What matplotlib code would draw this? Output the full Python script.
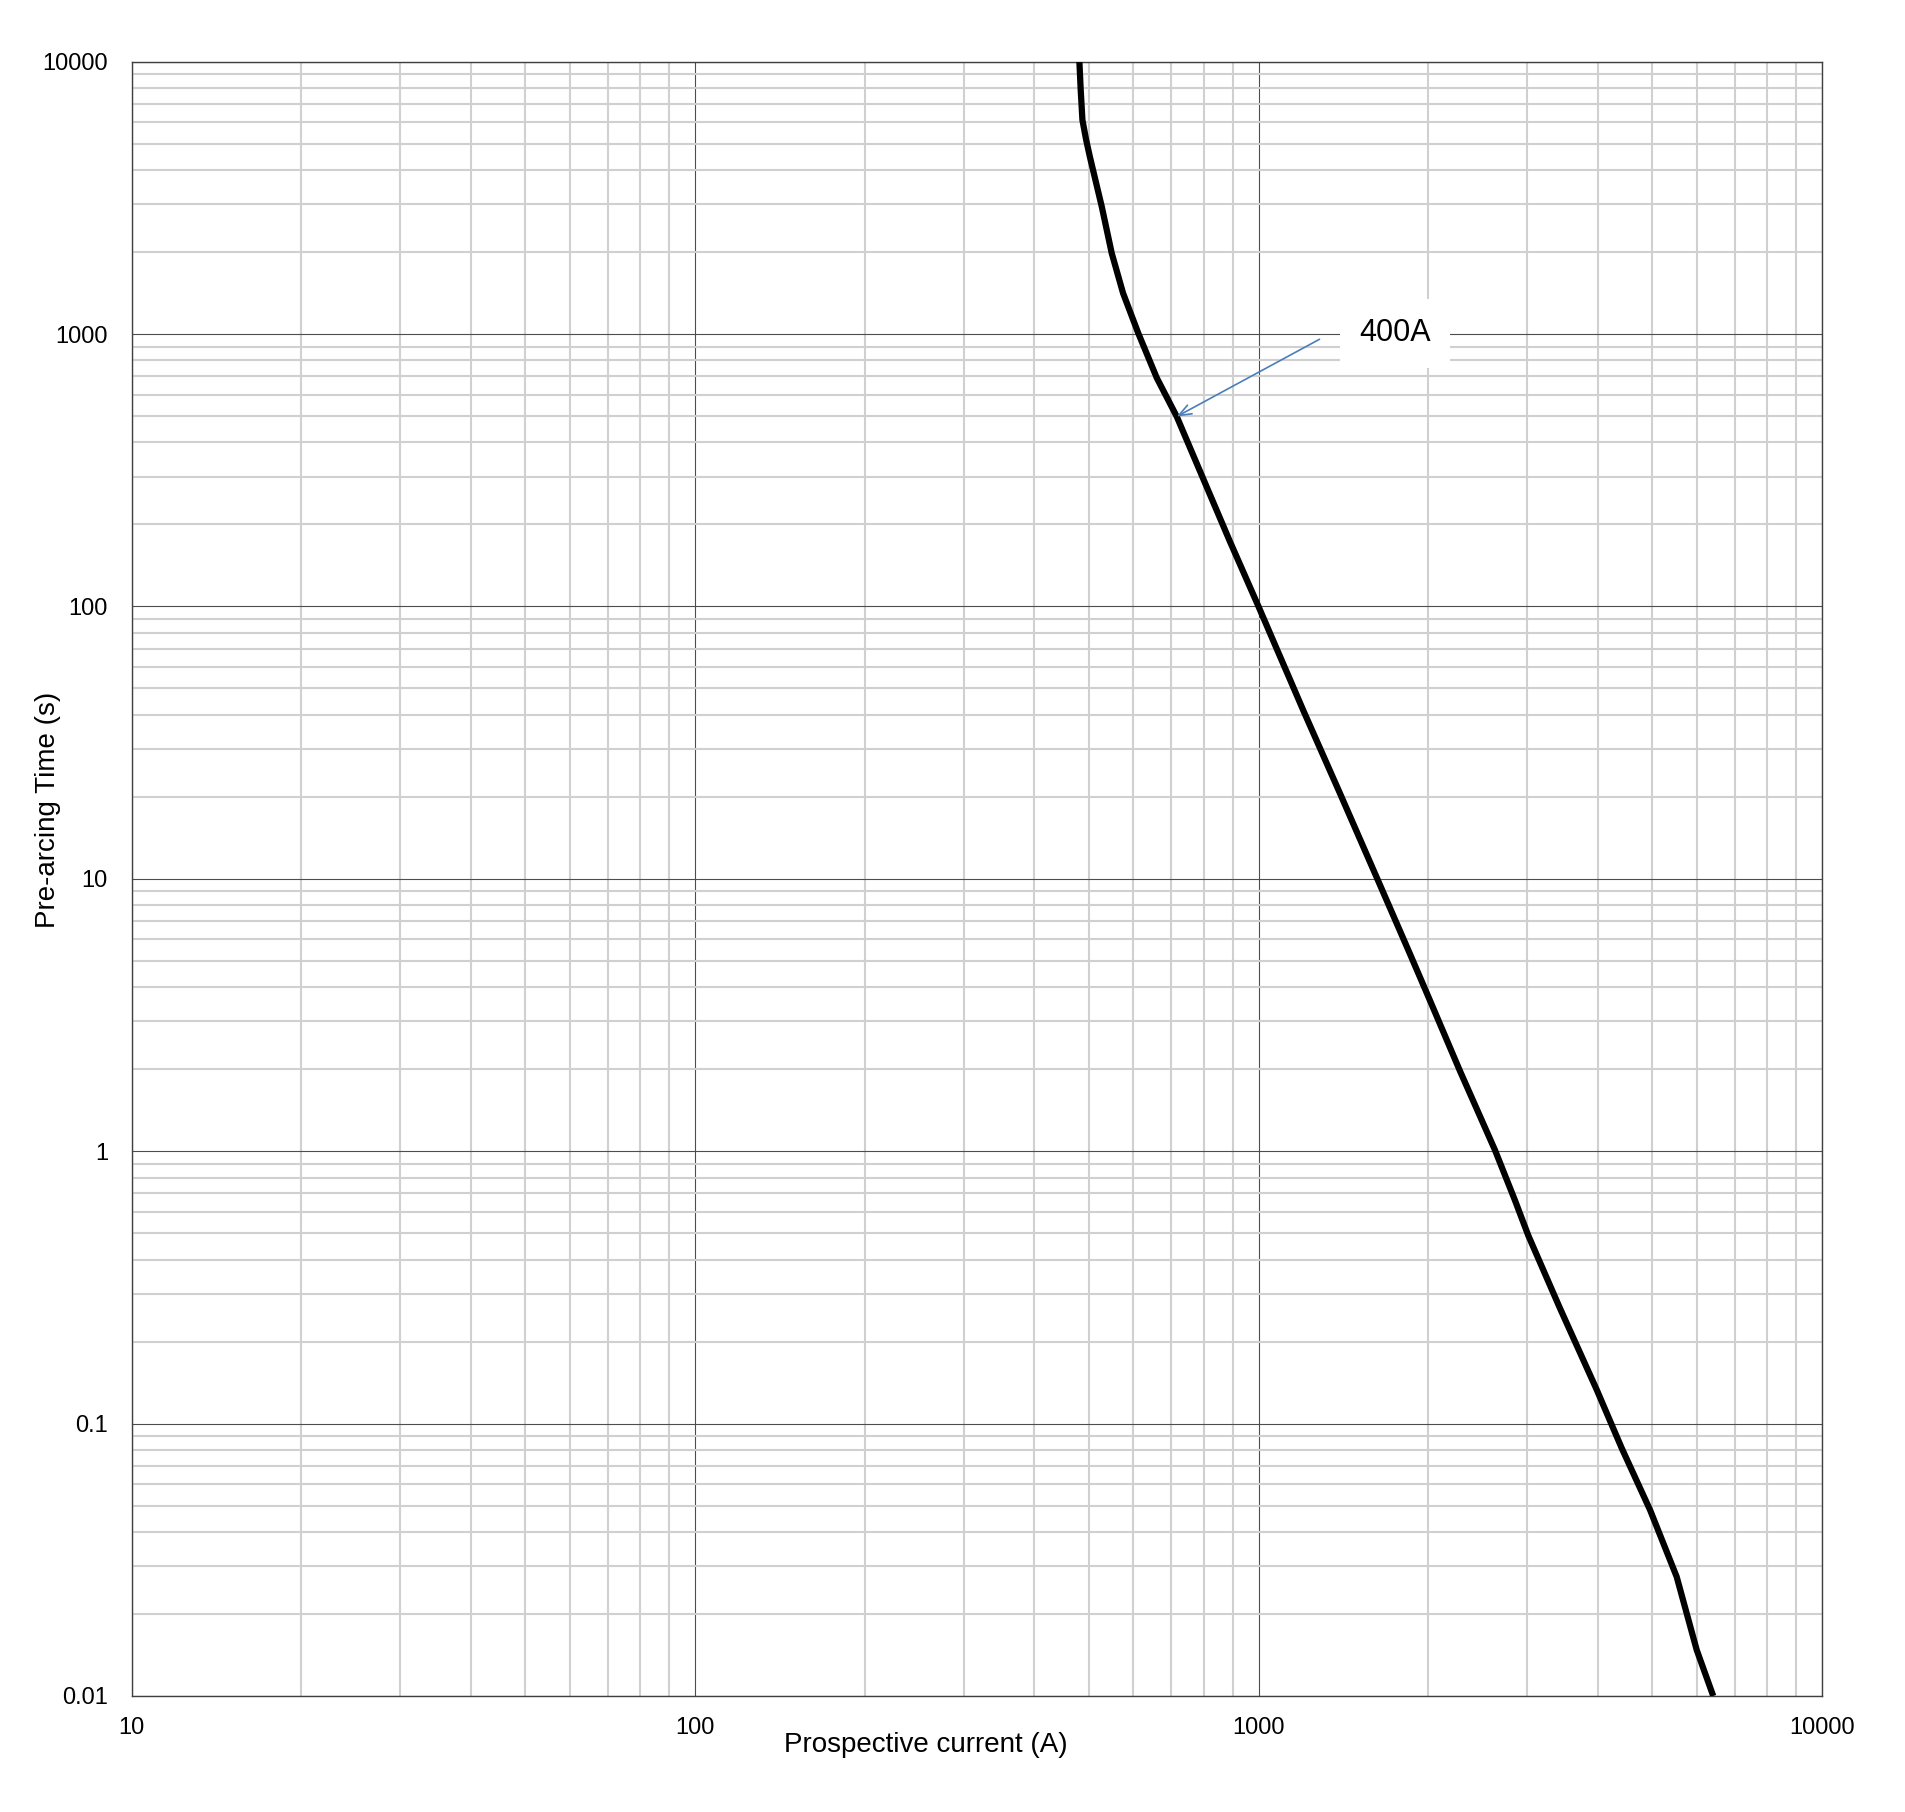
import numpy as np
import matplotlib
import matplotlib.pyplot as plt
from matplotlib.ticker import LogLocator, NullFormatter

matplotlib.use('Agg')

plt.rcParams['font.family'] = ['Liberation Sans', 'DejaVu Sans']

# time-current curve
current = [481, 483.6, 487, 494.5, 502, 527, 549, 575, 612, 660, 716, 798, 890, 1000, 1077, 1137, 1201,
           1395, 1632, 1857, 2001, 2278, 2628, 2852, 3012, 3428, 3984, 4411, 4953, 5522, 5993, 6412]
pre_arc_time = [10000, 7870, 6110, 5160, 4480, 2940, 1980, 1413, 1006, 690, 498, 294, 173, 100, 70, 54, 41.5,
                20.6, 9.8, 5.3, 3.7, 1.97, 1.01, 0.66, 0.49, 0.265, 0.133, 0.0813, 0.0482, 0.0274, 0.01476, 0.01]

x_ticks = [10, 100, 1000, 10000]
x_tick_labels = ['10', '100', '1000', '10000']
y_ticks = [0.01, 0.1, 1, 10, 100, 1000, 10000]
y_tick_labels = ['0.01', '0.1', '1', '10', '100', '1000', '10000']

rating = '400A'
arrow_tip = (716, 498)
arrow_tail = (1283, 957)
label_pos = (1746, 1007)

fig = plt.figure(figsize=(19.05, 18.12), dpi=100)
ax = fig.add_axes([0.06903, 0.06402, 0.88740, 0.90193])

ax.set_xscale('log')
ax.set_yscale('log')
ax.set_xlim(10, 10000)
ax.set_ylim(0.01, 10000)

ax.plot(current, pre_arc_time, color='black', lw=4.5, solid_capstyle='butt',
        solid_joinstyle='round', zorder=3)

ax.set_xticks(x_ticks)
ax.set_xticklabels(x_tick_labels)
ax.set_yticks(y_ticks)
ax.set_yticklabels(y_tick_labels)
ax.xaxis.set_minor_locator(LogLocator(base=10, subs=np.arange(2, 10)))
ax.yaxis.set_minor_locator(LogLocator(base=10, subs=np.arange(2, 10)))
ax.xaxis.set_minor_formatter(NullFormatter())
ax.yaxis.set_minor_formatter(NullFormatter())
ax.tick_params(which='both', length=0)
ax.tick_params(axis='x', labelsize=17, pad=15)
ax.tick_params(axis='y', labelsize=17, pad=17)

ax.grid(which='minor', color='#d0d0d0', lw=1.5)
ax.grid(which='major', color='#4d4d4d', lw=0.8)
ax.set_axisbelow(True)
for s in ax.spines.values():
    s.set_color('#404040')
    s.set_linewidth(1.0)

ax.set_xlabel('Prospective current (A)', fontsize=20)
ax.set_ylabel('Pre-arcing Time (s)', fontsize=20)
ax.xaxis.set_label_coords(0.47, -0.022)
ax.yaxis.set_label_coords(-0.042, 0.542)

ax.annotate('', xy=arrow_tip, xytext=arrow_tail,
            arrowprops=dict(arrowstyle='->,head_length=0.9,head_width=0.35', color='#4a7ebb',
                            lw=1.2, shrinkA=0, shrinkB=0), zorder=4)
ax.text(label_pos[0], label_pos[1], rating, fontsize=22, ha='center', va='center', zorder=5,
        bbox=dict(facecolor='white', edgecolor='none', pad=14))

plt.savefig('out.png', dpi=100)
